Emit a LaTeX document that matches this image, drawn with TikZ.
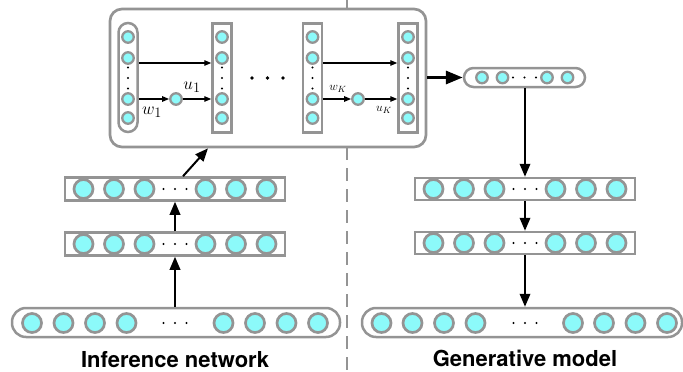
\documentclass[tikz,border=0pt]{standalone}
\usepackage{fontspec}
\setsansfont{TeX Gyre Heros}
\usetikzlibrary{arrows.meta,calc}
\definecolor{ccyan}{RGB}{140,250,250}
\definecolor{cgray}{RGB}{148,148,148}
\begin{document}
\begin{tikzpicture}[x=1pt,y=-1pt,
 unit/.style={circle,draw=cgray,fill=ccyan,line width=2.7pt,minimum size=19pt,inner sep=0pt},
 sunit/.style={circle,draw=cgray,fill=ccyan,line width=2.3pt,minimum size=11.5pt,inner sep=0pt},
 layerbox/.style={draw=cgray,line width=2.5pt,fill=white,inner sep=0pt,minimum width=220pt,minimum height=23pt},
 roundbox/.style={draw=cgray,line width=2.5pt,fill=white,inner sep=0pt,rounded corners=14pt,minimum width=328pt,minimum height=29pt},
 colbox/.style={draw=cgray,line width=2.5pt,fill=white,inner sep=0pt,minimum width=19pt,minimum height=109pt},
 dotsm/.style={circle,fill=black,inner sep=0pt,minimum size=2.3pt},
 dotbig/.style={circle,fill=black,inner sep=0pt,minimum size=3.8pt},
 conn/.style={line width=2pt,-{Triangle[length=13pt,width=10.5pt]}},
 innerarrow/.style={line width=1.2pt,-{Triangle[length=7pt,width=5.5pt]}},
 bigarrow/.style={line width=3.2pt,-{Triangle[length=17pt,width=13pt]}},
 sep/.style={cgray,line width=2.5pt,dash pattern=on 13pt off 8pt},
 lbl/.style={font=\fontsize{22}{26}\selectfont\sffamily\bfseries},
 mlbl/.style={font=\fontsize{19}{22}\selectfont,inner sep=0pt},
 mslbl/.style={font=\fontsize{13}{15}\selectfont,inner sep=0pt}
]
\useasboundingbox (0,0) rectangle (683,372);
% separator
\coordinate (dtop) at (347,0);
\coordinate (dbot) at (347,372);
\draw[sep] (dtop) -- (dbot);

% big flow box
\node[draw=cgray,line width=2.7pt,fill=white,rounded corners=12pt,minimum width=316pt,minimum height=138pt,inner sep=0pt] (big) at (268,78) {};

% columns
\node[colbox,rounded corners=9.5pt] (c1) at (128,77.5) {};
\node[colbox] (c2) at (222,78) {};
\node[colbox] (c3) at (312.5,78) {};
\node[colbox] (c4) at (408,78) {};
\foreach \c/\x in {c1/128,c2/222,c3/312.5,c4/408}{
  \foreach \y [count=\i] in {37,58,99,118}
    \node[sunit] (\c u\i) at (\x,\y) {};
  \foreach \y [count=\i] in {67.5,78,88.5}
    \node[dotsm] (\c d\i) at (\x,\y) {};
}
% intermediate units
\node[sunit] (w1) at (176,99) {};
\node[sunit] (wK) at (358,99) {};
% inner arrows
\draw[innerarrow] ([yshift=14.5pt]c1.east) -- ([yshift=15pt]c2.west);
\draw[innerarrow] (c1.east |- w1) -- (w1);
\draw[innerarrow] (w1) -- (c2.west |- w1);
\draw[innerarrow] ([yshift=15pt]c3.east) -- ([yshift=15pt]c4.west);
\draw[innerarrow] (c3.east |- wK) -- (wK);
\draw[innerarrow] (wK) -- (c4.west |- wK);
% labels
\node[mlbl] (lw1) at (152,112) {$w_1$};
\node[mlbl] (lu1) at (192,87) {$u_1$};
\node[mslbl] (lwK) at (338,89) {$w_K$};
\node[mslbl] (luK) at (384,110) {$u_K$};
% big dots
\foreach \x [count=\i] in {252,267.5,283}
  \node[dotbig] (bd\i) at (\x,78) {};

% inference network
\node[layerbox] (inA) at (175,189) {};
\node[layerbox] (inB) at (175,244) {};
\node[roundbox] (inC) at (176,322.5) {};
\foreach \n/\y in {inA/189,inB/244}{
  \foreach \x [count=\i] in {83.5,114,144.5,205.5,236,266.5}
    \node[unit] (\n u\i) at (\x,\y) {};
  \foreach \x [count=\i] in {163.5,175,186.5}
    \node[dotsm] (\n d\i) at (\x,\y) {};
}
\foreach \x [count=\i] in {32,63.5,95,126.5,223.5,255,286.5,318}
  \node[unit] (inCu\i) at (\x,323) {};
\foreach \x [count=\i] in {163.5,175,186.5}
  \node[dotsm] (inCd\i) at (\x,323) {};

\draw[conn] (inB.south |- inC.north) -- (inB.south);
\draw[conn] (inB.north) -- (inA.south);
\draw[conn] ([xshift=8pt]inA.north) -- ([xshift=-60pt]big.south);

% generative model
\node[draw=cgray,line width=2.5pt,fill=white,rounded corners=9.5pt,minimum width=121pt,minimum height=19pt,inner sep=0pt] (gT) at (524.5,77.5) {};
\foreach \x [count=\i] in {482,502.5,547,567.5}
  \node[sunit] (gTu\i) at (\x,77.5) {};
\foreach \x [count=\i] in {513,524.5,536}
  \node[dotsm] (gTd\i) at (\x,77.5) {};

\node[layerbox,minimum height=22pt] (gA) at (525,189) {};
\node[layerbox,minimum height=22pt] (gB) at (525,243) {};
\node[roundbox,minimum width=320pt] (gC) at (522,322.5) {};
\foreach \n/\y in {gA/189,gB/243}{
  \foreach \x [count=\i] in {433.5,464,494.5,555.5,586,616.5}
    \node[unit] (\n u\i) at (\x,\y) {};
  \foreach \x [count=\i] in {513.5,525,536.5}
    \node[dotsm] (\n d\i) at (\x,\y) {};
}
\foreach \x [count=\i] in {381.5,412.5,444,475.5,573,604,635.5,667}
  \node[unit] (gCu\i) at (\x,323) {};
\foreach \x [count=\i] in {513.5,525,536.5}
  \node[dotsm] (gCd\i) at (\x,323) {};

\draw[bigarrow] (big.east |- gT) -- (gT.west);
\draw[conn] (gT.south -| gA.north) -- (gA.north);
\draw[conn] (gA.south) -- (gB.north);
\draw[conn] (gB.south) -- (gB.south |- gC.north);

% titles
\node[lbl] (tin) at (175,360) {Inference network};
\node[lbl] (tgen) at (525,358) {Generative model};
\end{tikzpicture}
\end{document}
